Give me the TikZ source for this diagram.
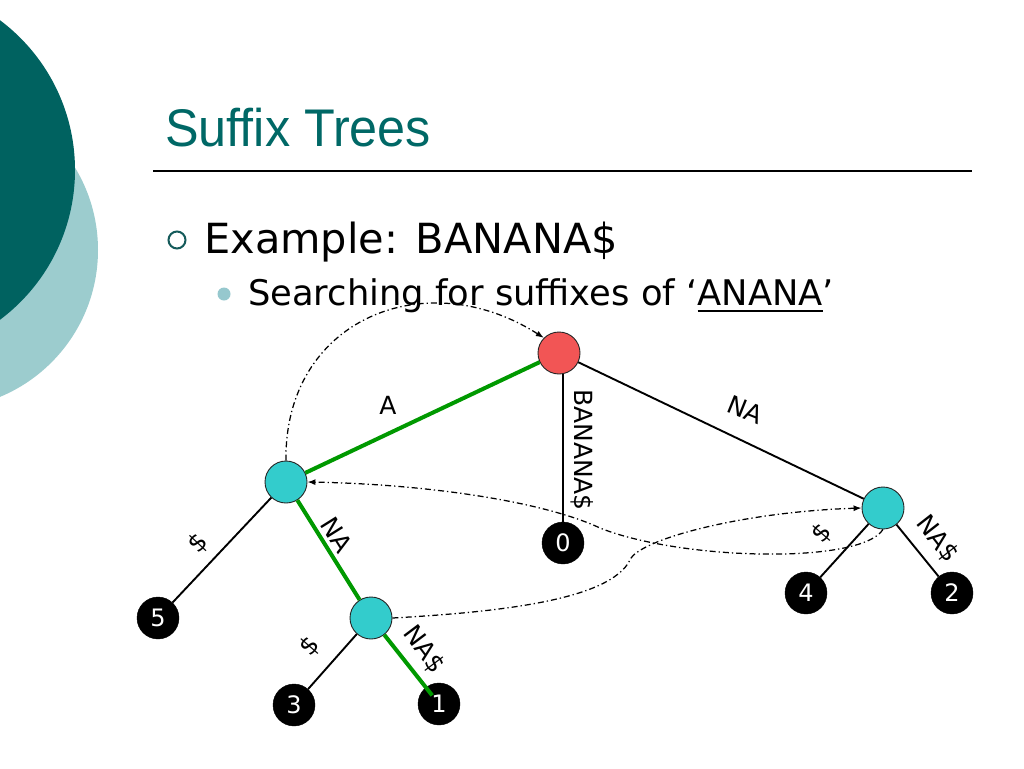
\documentclass[tikz,border=0pt]{standalone}
\usepackage{fontspec}
\setmainfont{DejaVu Sans}
\newfontfamily\titlefont{Liberation Sans}
\usetikzlibrary{arrows.meta,calc}
\definecolor{darkteal}{RGB}{0,98,96}
\definecolor{lightteal}{RGB}{156,204,206}
\definecolor{titleteal}{RGB}{0,104,102}
\definecolor{ringteal}{RGB}{20,90,90}
\definecolor{dotteal}{RGB}{150,200,206}
\definecolor{rootred}{RGB}{242,85,85}
\definecolor{nodeteal}{RGB}{51,204,204}
\definecolor{treegreen}{RGB}{0,153,0}
\newcommand\myul[1]{\setbox0=\hbox{#1}\rlap{\rule[-6.5pt]{\wd0}{1.8pt}}\box0}
\begin{document}
\begin{tikzpicture}[x=1pt,y=-1pt,
  inner/.style={circle, draw=black!85, line width=0.9pt, minimum size=42pt, inner sep=0pt},
  leaf/.style={circle, fill=black, draw=black, text=white, minimum size=42pt, inner sep=0pt, font=\fontsize{24}{24}\selectfont},
  edgeb/.style={line width=1.9pt, black},
  edgeg/.style={line width=4pt, treegreen},
  lab/.style={font=\fontsize{25}{25}\selectfont, inner sep=0pt},
  link/.style={line width=1.25pt, dash pattern=on 6pt off 3pt on 1.3pt off 3pt, -{Latex[length=8pt,width=6pt]}}]
\useasboundingbox (0,0) rectangle (1024,768);
\fill[white] (0,0) rectangle (1024,768);
\begin{scope}
\clip (0,0) rectangle (1024,768);
\fill[lightteal] (-61,250) circle[radius=159pt];
\fill[darkteal] (-112,170) circle[radius=187pt];
\end{scope}
% title and bullets
\node[anchor=base west, text=titleteal, font=\titlefont\fontsize{53}{53}\selectfont, xscale=0.95, inner sep=0pt] (title) at (165,146) {Suffix Trees};
\coordinate (ruleL) at (153,171);
\coordinate (ruleR) at (972,171);
\draw[line width=1.5pt] (ruleL) -- (ruleR);
\draw[ringteal, line width=2pt] (177,240) circle[radius=8.5pt];
\node[anchor=base west, font=\fontsize{41.5}{42}\selectfont, inner sep=0pt] (ex) at (204,253) {Example: BANANA\$};
\fill[dotteal] (224,294) circle[radius=6.5pt];
\node[anchor=base west, font=\fontsize{35.3}{36}\selectfont, inner sep=0pt] (sub) at (248,305) {Searching for suffixes of ‘\myul{ANANA}’};
% tree nodes
\node[inner, fill=rootred] (root) at (559,353) {};
\node[inner, fill=nodeteal] (lt) at (286,482) {};
\node[inner, fill=nodeteal] (rt) at (883,508) {};
\node[inner, fill=nodeteal] (lo) at (371,618) {};
\node[leaf] (l0) at (563,543) {0};
\node[leaf] (l5) at (158,618) {5};
\node[leaf] (l3) at (294,705) {3};
\node[leaf] (l1) at (439,704) {1};
\node[leaf] (l4) at (806,593) {4};
\node[leaf] (l2) at (952,593) {2};
% edges
\draw[edgeg] (root) -- (lt);
\draw[edgeb] (l0) -- (l0 |- root.south);
\draw[edgeb] (root) -- (rt);
\draw[edgeb] (lt) -- (l5);
\draw[edgeg] (lt) -- (lo);
\draw[edgeb] (lo) -- (l3);
\draw[edgeg] (lo) -- ($(lo)!0.9!(l1)$);
\draw[edgeb] (rt) -- (l4);
\draw[edgeb] (rt) -- (l2);
% edge labels
\node[lab] (tA) at (388,405) {A};
\node[lab, rotate=-90] (tB) at (582,450) {BANANA\$};
\node[lab, rotate=-22] (tNA1) at (745,410) {NA};
\node[lab, rotate=47] (tD5) at (198,543) {\$};
\node[lab, rotate=-58] (tNA2) at (337,535) {NA};
\node[lab, rotate=49] (tD3) at (310,646) {\$};
\node[lab, rotate=-53] (tNAD1) at (424,650) {NA\$};
\node[lab, rotate=49] (tD4) at (822,533) {\$};
\node[lab, rotate=-52] (tNAD2) at (937,539) {NA\$};
% suffix links
\draw[link] (lt.north) .. controls (284,320) and (425,262) .. (root.135);
\draw[link] (rt.south) .. controls (860,565) and (680,560) .. (600,528) .. controls (540,500) and (420,484) .. (lt.east);
\draw[link] (lo.east) .. controls (500,612) and (610,600) .. (630,560) .. controls (638,540) and (740,512) .. (rt.west);
\end{tikzpicture}
\end{document}
